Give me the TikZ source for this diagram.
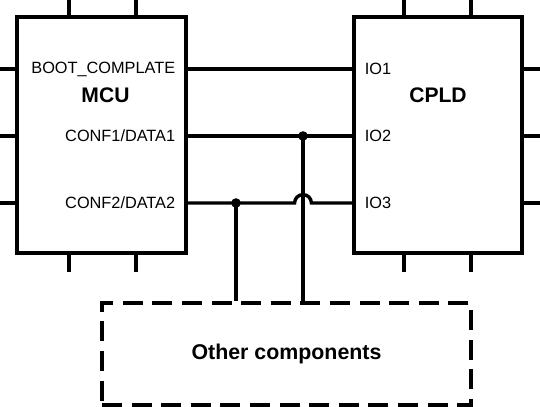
\documentclass[tikz,border=0pt]{standalone}
\usepackage{fontspec}
\setmainfont{Liberation Sans}
\usetikzlibrary{positioning}

\begin{document}
\begin{tikzpicture}[line width=2.4pt]
\tikzstyle{chip} = [rectangle, draw, minimum width=4.225cm, minimum height=5.9cm, inner sep=0pt]
\tikzstyle{title} = [font=\fontsize{15}{18}\selectfont\bfseries]
\tikzstyle{port} = [font=\fontsize{11.6}{14}\selectfont, inner sep=2pt]
\tikzstyle{junction} = [circle, fill, inner sep=0pt, minimum size=0.24cm]
\tikzstyle{others} = [rectangle, draw, dash pattern=on 0.5cm off 0.24cm, minimum width=9.225cm, minimum height=2.55cm, font=\fontsize{15.2}{18}\selectfont\bfseries]
\tikzstyle{wire} = [draw]

\useasboundingbox (0,0) rectangle (13.5,10.15);

% the two chips
\node [chip] (mcu) at (2.5375,6.775) {};
\node [chip, minimum width=4.2cm] (cpld) at (10.95,6.775) {};
\node [title] (mcuname) at ([xshift=0.1cm, yshift=-2cm]mcu.north) {MCU};
\node [title] (cpldname) at ([yshift=-2cm]cpld.north) {CPLD};

% signal rows
\coordinate (r1) at (0,8.425);
\coordinate (r2) at (0,6.75);
\coordinate (r3) at (0,5.075);
\coordinate (m1) at (mcu.east |- r1);
\coordinate (m2) at (mcu.east |- r2);
\coordinate (m3) at (mcu.east |- r3);
\coordinate (c1) at (cpld.west |- r1);
\coordinate (c2) at (cpld.west |- r2);
\coordinate (c3) at (cpld.west |- r3);

\node [port, left=0.2cm of m1] (boot) {BOOT\_COMPLATE};
\node [port, left=0.2cm of m2] (conf1) {CONF1/DATA1};
\node [port, left=0.2cm of m3] (conf2) {CONF2/DATA2};
\node [port, right=0.2cm of c1] (io1) {IO1};
\node [port, right=0.2cm of c2] (io2) {IO2};
\node [port, right=0.2cm of c3] (io3) {IO3};

% unused pins
\foreach \r in {r1,r2,r3} {
  \draw (mcu.west |- \r) -- ++(-0.425,0);
  \draw (cpld.east |- \r) -- ++(0.425,0);
}
\foreach \x in {1.725,3.4,10.1,11.775} {
  \draw (\x,0 |- mcu.north) -- ++(0,0.425);
  \draw (\x,0 |- mcu.south) -- ++(0,-0.425);
}

% bus
\node [others] (other) at (7.1625,1.3) {Other components};
\node [junction] (j1) at (7.575,6.75) {};
\node [junction] (j2) at (5.9,5.075) {};
\coordinate (hop) at (7.365,5.075);

\path [wire] (m1) -- (c1);
\path [wire] (m2) -- (c2);
\path [wire] (m3) -- (hop) arc (180:0:0.21) -- (c3);
\path [wire] (j1.center) -- (j1 |- other.north);
\path [wire] (j2.center) -- (j2 |- other.north);
\end{tikzpicture}
\end{document}
